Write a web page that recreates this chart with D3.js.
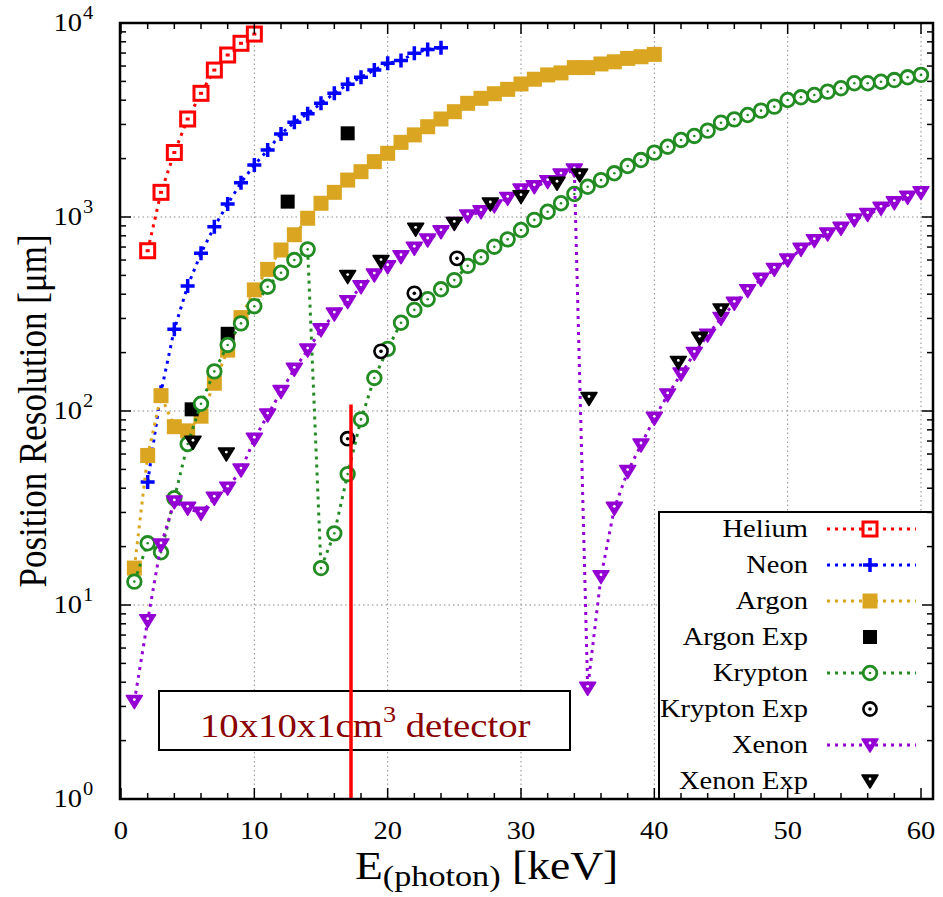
<!DOCTYPE html>
<html>
<head>
<meta charset="utf-8">
<script src="https://cdn.jsdelivr.net/npm/d3@7"></script>
<style>
  html, body { margin: 0; padding: 0; background: #fff; }
  svg { display: block; }
</style>
</head>
<body>
<div id="chart"></div>
<script>
// ---- data (E in keV, resolution in um) ----
var heliumE = [2,3,4,5,6,7,8,9,10];
var heliumV = [670,1340,2150,3200,4340,5720,6840,7860,8770];

var neonE = [2,3,4,5,6,7,8,9,10,11,12,13,14,15,16,17,18,19,20,21,22,23,24];
var neonV = [43,125,264,441,650,891,1166,1503,1854,2214,2680,3080,3410,3855,4340,4830,5250,5720,6200,6400,6980,7310,7460];

var argonE = [1,2,3,4,5,6,7,8,9,10,11,12,13,14,15,16,17,18,19,20,21,22,23,24,25,26,27,28,29,30,31,32,33,34,35,36,37,38,39,40];
var argonV = [15.5,59,120,83,79,94,139,206,303,421,537,676,810,985,1177,1340,1550,1713,1929,2130,2425,2650,2920,3200,3490,3855,4090,4320,4550,4850,5130,5400,5530,5890,5890,6150,6310,6570,6700,6890];

var argonExpE = [5.3,8,12.5,17];
var argonExpV = [102,250,1200,2700];

var kryptonE = [1,2,3,4,5,6,7,8,9,10,11,12,13,14,15,16,17,18,19,20,21,22,23,24,25,26,27,28,29,30,31,32,33,34,35,36,37,38,39,40,41,42,43,44,45,46,47,48,49,50,51,52,53,54,55,56,57,58,59,60];
var kryptonV = [13.2,20.8,18.7,35.5,67.6,109,160,219,283,347,437,516,600,681,15.5,23.4,47.3,90.5,148,209,285,332,377,424,473,560,620,703,767,857,966,1064,1177,1314,1432,1550,1680,1832,1966,2146,2303,2495,2617,2787,3063,3186,3355,3533,3705,4010,4140,4255,4430,4610,4890,4890,4980,5080,5250,5400];

var kryptonExpE = [17,19.5,22,25.2];
var kryptonExpV = [72,203,404,612];

var xenonE = [1,2,3,4,5,6,7,8,9,10,11,12,13,14,15,16,17,18,19,20,21,22,23,24,25,26,27,28,29,30,31,32,33,34,35,36,37,38,39,40,41,42,43,44,45,46,47,48,49,50,51,52,53,54,55,56,57,58,59,60];
var xenonV = [3.18,8.3,20.4,34,31.5,29.7,35.5,40,49.6,71.5,95.3,126,164,206,262,316,366,437,502,554,624,690,761,839,927,1012,1064,1140,1247,1377,1432,1521,1645,1747,3.72,14,31.5,48.7,66.8,91.7,121,155,198,246,300,359,417,477,537,600,681,755,817,874,966,1030,1109,1183,1263,1334];

var xenonExpE = [5.4,7.9,17,19.5,22.1,25,27.7,30,32.7,34.4,35.1,41.8,43.4,45];
var xenonExpV = [69,60,493,589,864,927,1167,1273,1493,1645,116,178,237,332];

var xTicks = [0,10,20,30,40,50,60];
var yTicks = [1,10,100,1000,10000];
var yTickExp = ['0','1','2','3','4'];

var series = [
  { name: 'Helium', e: heliumE, v: heliumV, color: '#ff0000', marker: 'heSq', line: true },
  { name: 'Neon', e: neonE, v: neonV, color: '#0000ff', marker: 'plus', line: true },
  { name: 'Argon', e: argonE, v: argonV, color: '#daa520', marker: 'arSq', line: true },
  { name: 'Argon Exp', e: argonExpE, v: argonExpV, color: '#000', marker: 'expSq', line: false },
  { name: 'Krypton', e: kryptonE, v: kryptonV, color: '#228b22', marker: 'krCirc', line: true },
  { name: 'Krypton Exp', e: kryptonExpE, v: kryptonExpV, color: '#000', marker: 'krExp', line: false },
  { name: 'Xenon', e: xenonE, v: xenonV, color: '#9400d3', marker: 'xeTri', line: true },
  { name: 'Xenon Exp', e: xenonExpE, v: xenonExpV, color: '#000', marker: 'xeExp', line: false }
];

var FONT = '"Liberation Serif", "Times New Roman", serif';
var SX = 1.14; // the original figure is stretched a little horizontally

var W = 943, H = 897;
var L = 120, R = 933, T = 23, B = 799;

var svg = d3.select('#chart').append('svg').attr('width', W).attr('height', H);

var x = d3.scaleLinear().domain([0, 60.9]).range([121, R]);
var y = d3.scaleLog().domain([1, 10000]).range([B, T]);

function stext(sel, px, py, size) {
  return sel.append('text')
    .attr('transform', 'translate(' + px + ',' + py + ') scale(' + SX + ',1)')
    .attr('font-family', FONT).attr('font-size', size + 'px').attr('fill', '#000');
}

// ---- grid ----
var grid = svg.append('g');
grid.selectAll('line.gx').data([10,20,30,40,50,60]).join('line')
  .attr('x1', function(d) { return x(d); }).attr('x2', function(d) { return x(d); })
  .attr('y1', T).attr('y2', B)
  .attr('stroke', '#8a8a8a').attr('stroke-width', 1).attr('stroke-dasharray', '1.5,3');
grid.selectAll('line.gy').data([10,100,1000]).join('line')
  .attr('x1', L).attr('x2', R)
  .attr('y1', function(d) { return y(d); }).attr('y2', function(d) { return y(d); })
  .attr('stroke', '#8a8a8a').attr('stroke-width', 1).attr('stroke-dasharray', '1.5,3');

// ---- markers ----
function marker(g, type, color, cx, cy) {
  var m = g.append('g').attr('transform', 'translate(' + cx + ',' + cy + ')');
  if (type === 'heSq') {
    m.append('rect').attr('x', -7).attr('y', -7).attr('width', 14).attr('height', 14)
      .attr('fill', '#fff').attr('stroke', color).attr('stroke-width', 3);
    m.append('rect').attr('x', -2).attr('y', -1.5).attr('width', 4).attr('height', 3).attr('fill', color);
  } else if (type === 'plus') {
    m.append('path').attr('d', 'M-7,0H7M0,-7V7').attr('stroke', color).attr('stroke-width', 3.5);
  } else if (type === 'arSq') {
    m.append('rect').attr('x', -7.5).attr('y', -7.5).attr('width', 15).attr('height', 15).attr('fill', color);
  } else if (type === 'expSq') {
    m.append('rect').attr('x', -7).attr('y', -7).attr('width', 14).attr('height', 14).attr('fill', color);
  } else if (type === 'krCirc') {
    m.append('circle').attr('r', 6.8).attr('fill', '#fff').attr('stroke', color).attr('stroke-width', 2.8);
    m.append('circle').attr('r', 1.3).attr('fill', color);
  } else if (type === 'krExp') {
    m.append('circle').attr('r', 6.6).attr('fill', '#fff').attr('stroke', color).attr('stroke-width', 2.6);
    m.append('circle').attr('r', 1.8).attr('fill', color);
  } else if (type === 'xeTri' || type === 'xeExp') {
    m.append('path').attr('d', 'M-8,-6L8,-6L0,7Z')
      .attr('fill', color).attr('stroke', color).attr('stroke-width', 1.5).attr('stroke-linejoin', 'round');
    m.append('circle').attr('cx', 0).attr('cy', -2).attr('r', 1.4).attr('fill', '#fff');
  }
}

// ---- series ----
var lineGen = d3.line()
  .x(function(d) { return x(d[0]); })
  .y(function(d) { return y(d[1]); });

var plot = svg.append('g');
series.forEach(function(s) {
  var pts = s.e.map(function(e, i) { return [e, s.v[i]]; });
  if (s.line) {
    plot.append('path').datum(pts).attr('d', lineGen)
      .attr('fill', 'none').attr('stroke', s.color).attr('stroke-width', 3)
      .attr('stroke-dasharray', '3,5');
  }
  pts.forEach(function(p) { marker(plot, s.marker, s.color, x(p[0]), y(p[1])); });
});

// ---- detector label ----
svg.append('rect').attr('x', 159).attr('y', 691).attr('width', 411).attr('height', 59)
  .attr('fill', '#fff').attr('stroke', '#000').attr('stroke-width', 2);
var det = stext(svg, 200, 737, 34).attr('fill', '#8b0000');
det.append('tspan').text('10x10x1cm');
det.append('tspan').attr('font-size', '23px').attr('dy', -15).text('3');
det.append('tspan').attr('dy', 15).text(' detector');

// ---- red marker line at 17.25 keV ----
svg.append('line')
  .attr('x1', x(17.25)).attr('x2', x(17.25))
  .attr('y1', y(108)).attr('y2', B)
  .attr('stroke', '#ff0000').attr('stroke-width', 3.5);

// ---- legend ----
var leg = svg.append('g');
leg.append('rect').attr('x', 659).attr('y', 512).attr('width', R - 659).attr('height', B - 512)
  .attr('fill', '#fff').attr('stroke', '#000').attr('stroke-width', 2);
series.forEach(function(s, i) {
  var ly = 529 + i * 36;
  stext(leg, 808, ly + 8, 25).attr('text-anchor', 'end').text(s.name);
  if (s.line) {
    leg.append('line').attr('x1', 827).attr('x2', 916).attr('y1', ly).attr('y2', ly)
      .attr('stroke', s.color).attr('stroke-width', 3).attr('stroke-dasharray', '3,5');
  }
  marker(leg, s.marker, s.color, 870, ly);
});

// ---- axes (ticks inward on all four sides) ----
var ax = svg.append('g');
var xMinor = d3.range(0, 61, 2);
ax.selectAll('line.xt').data(xMinor).join('line')
  .attr('x1', function(d) { return x(d); }).attr('x2', function(d) { return x(d); })
  .attr('y1', B).attr('y2', function(d) { return B - (d % 10 === 0 ? 11 : 6); })
  .attr('stroke', '#000').attr('stroke-width', 1.5);
ax.selectAll('line.xtt').data(xMinor).join('line')
  .attr('x1', function(d) { return x(d); }).attr('x2', function(d) { return x(d); })
  .attr('y1', T).attr('y2', function(d) { return T + (d % 10 === 0 ? 11 : 6); })
  .attr('stroke', '#000').attr('stroke-width', 1.5);

var yAll = [];
[1, 10, 100, 1000].forEach(function(dec) {
  for (var k = 1; k <= 9; k++) yAll.push(dec * k);
});
yAll.push(10000);
function isMajor(d) { return yTicks.indexOf(d) >= 0; }
ax.selectAll('line.yt').data(yAll).join('line')
  .attr('x1', L).attr('x2', function(d) { return L + (isMajor(d) ? 11 : 6); })
  .attr('y1', function(d) { return y(d); }).attr('y2', function(d) { return y(d); })
  .attr('stroke', '#000').attr('stroke-width', 1.5);
ax.selectAll('line.ytr').data(yAll).join('line')
  .attr('x1', R).attr('x2', function(d) { return R - (isMajor(d) ? 11 : 6); })
  .attr('y1', function(d) { return y(d); }).attr('y2', function(d) { return y(d); })
  .attr('stroke', '#000').attr('stroke-width', 1.5);

ax.append('rect').attr('x', L).attr('y', T).attr('width', R - L).attr('height', B - T)
  .attr('fill', 'none').attr('stroke', '#000').attr('stroke-width', 2.5);

// tick labels
xTicks.forEach(function(d) {
  stext(ax, x(d), 839, 25).attr('text-anchor', 'middle').text(d);
});
yTicks.forEach(function(d, i) {
  stext(ax, 82, y(d) + 8, 25).attr('text-anchor', 'end').text('10');
  stext(ax, 83, y(d) - 4, 18).attr('text-anchor', 'start').text(yTickExp[i]);
});

// axis titles
var xt = stext(svg, 355, 879, 40);
xt.append('tspan').text('E');
xt.append('tspan').attr('font-size', '30px').attr('dy', 7).text('(photon)');
xt.append('tspan').attr('dy', -7).text(' [keV]');

svg.append('text')
  .attr('transform', 'translate(46,' + ((T + B) / 2) + ') scale(' + SX + ',1) rotate(-90)')
  .attr('text-anchor', 'middle')
  .attr('font-family', FONT).attr('font-size', '35px').attr('fill', '#000')
  .text('Position Resolution [\u03bcm]');
</script>
</body>
</html>
